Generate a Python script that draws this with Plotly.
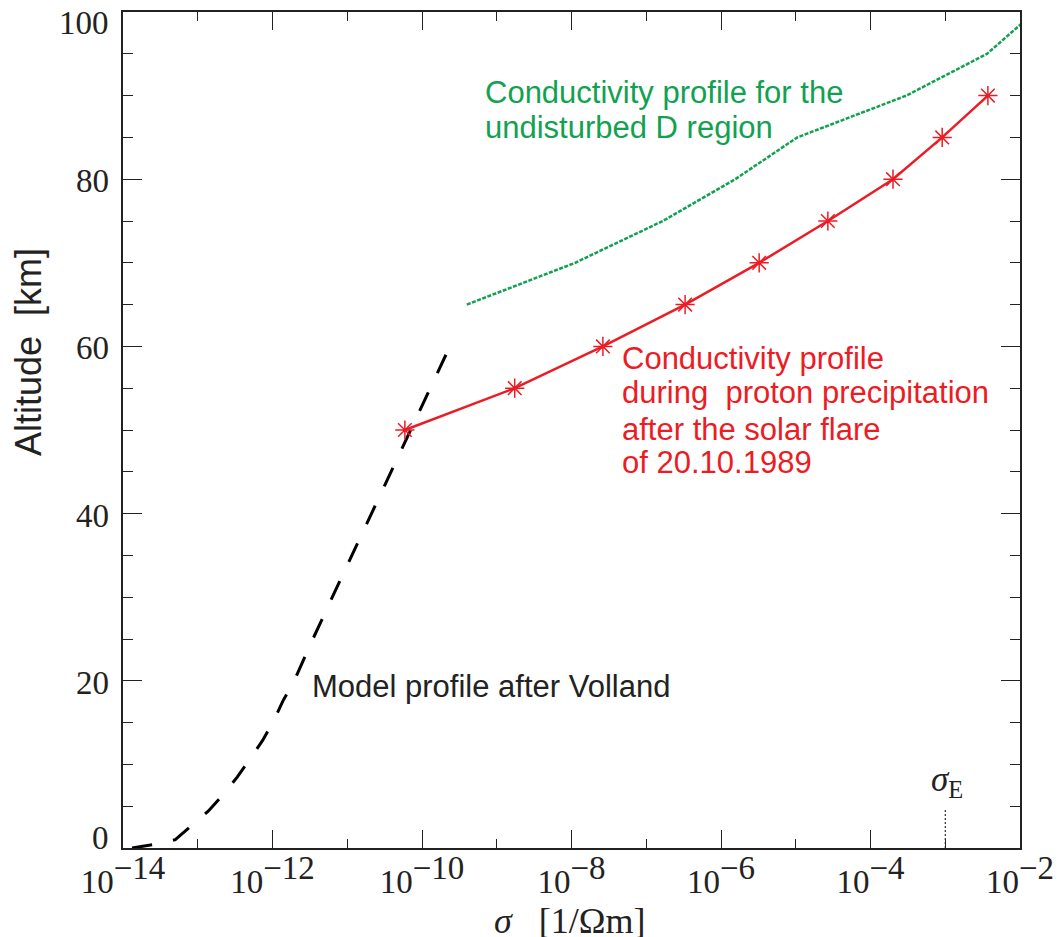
import math
import plotly.graph_objects as go

# ---------------- data ----------------
# Model profile after Volland (black dashed)
volland_alt = [0, 0.4, 1.0, 2.75, 4.4, 6.6, 8.5, 10.8, 12.9, 15.3, 17.6, 20, 22.5, 25,
               30, 35, 40, 45, 50, 55, 59]
volland_sigma = [1.32e-14, 2.51e-14, 5.01e-14, 8.32e-14, 1.38e-13, 2.29e-13, 3.39e-13,
                 5.13e-13, 7.41e-13, 1.05e-12, 1.38e-12, 1.95e-12, 2.57e-12, 3.47e-12,
                 6.31e-12, 1.15e-11, 2.14e-11, 3.89e-11, 7.08e-11, 1.29e-10, 2.09e-10]

# Undisturbed D region (green dotted)
undist_alt = [65, 70, 75, 80, 85, 90, 95, 100]
undist_sigma = [3.98e-10, 1.12e-8, 1.66e-7, 1.55e-6, 1.05e-5, 3.02e-4, 3.63e-3, 1.58e-2]

# During proton precipitation (red, asterisks)
flare_alt = [50, 55, 60, 65, 70, 75, 80, 85, 90]
flare_sigma = [5.9e-11, 1.74e-9, 2.63e-8, 3.31e-7, 3.24e-6, 2.69e-5, 2.0e-4, 9.1e-4, 3.72e-3]

# sigma_E marker
sigmaE_x = [1e-3, 1e-3]
sigmaE_alt = [0, 4.6]

# ticks
x_major = [1e-14, 1e-12, 1e-10, 1e-8, 1e-6, 1e-4, 1e-2]
x_major_exp = ["\u221214", "\u221212", "\u221210", "\u22128", "\u22126", "\u22124", "\u22122"]
x_minor = [1e-13, 1e-11, 1e-9, 1e-7, 1e-5, 1e-3]
y_major = [0, 20, 40, 60, 80, 100]
y_major_text = ["0", "20", "40", "60", "80", "100"]
y_minor = [5, 10, 15, 25, 30, 35, 45, 50, 55, 65, 70, 75, 85, 90, 95]

GREEN = "#12a150"
RED = "#ec1c24"
INK = "#222222"
SERIF = "Liberation Serif, Times New Roman, serif"
SANS = "Liberation Sans, Arial, sans-serif"
TICKSIZE = 33

# layout geometry (pixels)
W, H = 1064, 937
ML, MR, MT, MB = 123, 44, 12, 89
PW, PH = W - ML - MR, H - MT - MB
XLO, XHI = -14, -2

# dash pattern for the model curve, tuned so the curve ends on a full dash
def path_len(xs, ys):
    px = [(math.log10(v) - XLO) / (XHI - XLO) * PW for v in xs]
    py = [a / 100 * PH for a in ys]
    return sum(math.hypot(px[i + 1] - px[i], py[i + 1] - py[i]) for i in range(len(px) - 1))

L = path_len(volland_sigma, volland_alt)
period = 43.0
n = round((L + 21.5) / period)
scale = (L + 21.5) / (n * period)
dash_pat = "%.2fpx,%.2fpx" % (21.0 * scale, 22.0 * scale)

fig = go.Figure()

fig.add_trace(go.Scatter(x=volland_sigma, y=volland_alt, mode="lines",
                         line=dict(color="black", width=3, dash=dash_pat),
                         showlegend=False))
fig.add_trace(go.Scatter(x=undist_sigma, y=undist_alt, mode="lines",
                         line=dict(color=GREEN, width=2.5, dash="4px,1.5px"),
                         showlegend=False))
fig.add_trace(go.Scatter(x=flare_sigma, y=flare_alt, mode="lines+markers",
                         line=dict(color=RED, width=2.5),
                         marker=dict(symbol="asterisk-open", size=16,
                                     line=dict(color=RED, width=1.5)),
                         showlegend=False))
fig.add_trace(go.Scatter(x=sigmaE_x, y=sigmaE_alt, mode="lines",
                         line=dict(color="black", width=1, dash="2px,2px"),
                         showlegend=False))

x_major_text = ["10<sup><span style='font-size:%dpx'>%s</span></sup>" % (TICKSIZE, e)
                for e in x_major_exp]

fig.update_xaxes(type="log", range=[XLO, XHI],
                 tickvals=x_major, ticktext=x_major_text,
                 ticks="inside", ticklen=18, tickwidth=1.2, tickcolor=INK,
                 minor=dict(tickvals=x_minor, ticks="inside", ticklen=9,
                            tickwidth=1.2, tickcolor=INK),
                 showline=True, linecolor=INK, linewidth=1.5, mirror="ticks",
                 showgrid=False, zeroline=False, automargin=False,
                 ticklabelstandoff=4,
                 tickfont=dict(family=SERIF, size=TICKSIZE, color=INK))
fig.update_yaxes(range=[0, 100],
                 tickvals=y_major, showticklabels=False,
                 ticks="inside", ticklen=19, tickwidth=1.2, tickcolor=INK,
                 minor=dict(tickvals=y_minor, ticks="inside", ticklen=10,
                            tickwidth=1.2, tickcolor=INK),
                 showline=True, linecolor=INK, linewidth=1.5, mirror="ticks",
                 showgrid=False, zeroline=False, automargin=False)

annotations = []
# y tick labels (end labels pulled inside the frame as in the reference)
for i, (v, t) in enumerate(zip(y_major, y_major_text)):
    shift = -2
    if i == 0:
        shift = 10
    elif i == len(y_major) - 1:
        shift = -11
    annotations.append(dict(x=0, xref="paper", y=v, yref="y", text=t,
                            xanchor="right", yanchor="middle", xshift=-12, yshift=shift,
                            showarrow=False, font=dict(family=SERIF, size=TICKSIZE, color=INK)))

# axis titles
annotations.append(dict(x=(28 - ML) / PW, y=(H - MB - 352) / PH, xref="paper", yref="paper",
                        text="Altitude  [km]", textangle=-90, showarrow=False,
                        xanchor="center", yanchor="middle",
                        font=dict(family=SANS, size=36, color=INK)))
annotations.append(dict(x=(570 - ML) / PW, y=-(921 - (H - MB)) / PH, xref="paper", yref="paper",
                        text="<i>\u03c3</i>   [1/\u03a9m]", showarrow=False,
                        xanchor="center", yanchor="middle",
                        font=dict(family=SERIF, size=36, color=INK)))
# sigma_E label
annotations.append(dict(x=-3, y=8.0, xref="x", yref="y",
                        text="<i>\u03c3</i><sub>E</sub>", showarrow=False,
                        xanchor="center", yanchor="middle", xshift=2,
                        font=dict(family=SERIF, size=35, color=INK)))

# text labels
def text_lines(lines, x_px, y_centers, color):
    for line, yc in zip(lines, y_centers):
        annotations.append(dict(x=(x_px - ML) / PW, y=(H - MB - yc) / PH,
                                xref="paper", yref="paper", text=line,
                                xanchor="left", yanchor="middle", showarrow=False,
                                font=dict(family=SANS, size=31, color=color)))

text_lines(["Conductivity profile for the", "undisturbed D region"], 483, [93, 128], GREEN)
text_lines(["Conductivity profile", "during  proton precipitation",
            "after the solar flare", "of 20.10.1989"], 620, [358, 393, 429, 462], RED)
text_lines(["Model profile after Volland"], 310, [686], INK)

fig.update_layout(width=W, height=H,
                  margin=dict(l=ML, r=MR, t=MT, b=MB, pad=0),
                  paper_bgcolor="white", plot_bgcolor="white",
                  annotations=annotations, showlegend=False)

fig.write_html("out.html",
               config={"displayModeBar": False},
               post_script="document.body.style.margin='0';document.body.style.padding='0';")
